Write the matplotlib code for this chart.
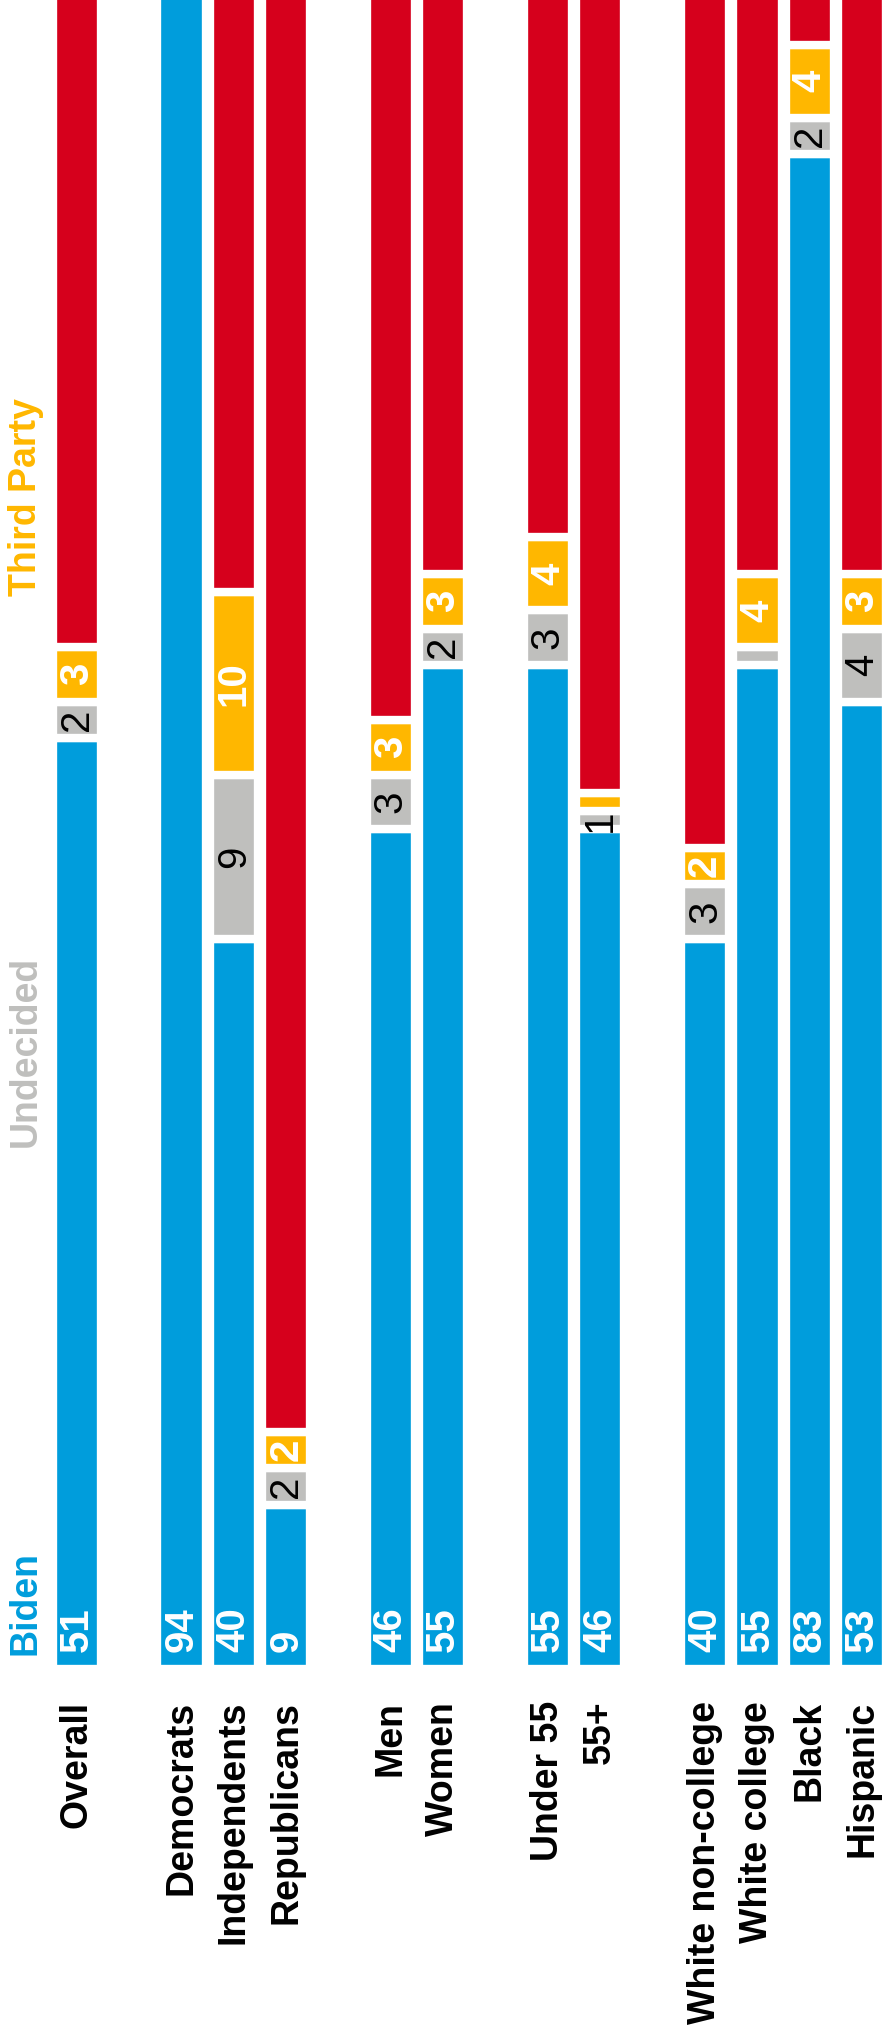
import matplotlib
matplotlib.use("Agg")
import matplotlib.pyplot as plt
import numpy as np

plt.rcParams['font.family'] = ['Liberation Sans', 'DejaVu Sans']

# groups, with empty slots between blocks
groups = ["Overall", "Democrats", "Independents", "Republicans", "Men", "Women",
          "Under 55", "55+", "White non-college", "White college", "Black", "Hispanic"]
slots = [0, 2, 3, 4, 6, 7, 9, 10, 12, 13, 14, 15]

biden = [51, 94, 40, 9, 46, 55, 55, 46, 40, 55, 83, 53]
undecided = [2, 2, 9, 2, 3, 2, 3, 1, 3, 1, 2, 4]
third_party = [3, 1, 10, 2, 3, 3, 4, 1, 2, 4, 4, 3]
trump = [44, 3, 41, 87, 48, 40, 38, 52, 55, 40, 11, 40]

undecided_labels = ["2", "", "9", "2", "3", "2", "3", "1", "3", "", "2", "4"]
third_labels = ["3", "", "10", "2", "3", "3", "4", "", "2", "4", "4", "3"]

series_names = ["Biden", "Undecided", "Third Party"]
series_pos = [0.75, 28.6, 58.8]

BLUE = "#009ddc"
GRAY = "#bfbfbd"
YELLOW = "#ffb700"
RED = "#d6001c"

fig = plt.figure(figsize=(8.82, 20.32), dpi=100)
ax = fig.add_axes([0, 0, 1, 1])

x = np.array(slots, dtype=float)
bottom = np.zeros(len(x))
containers = []
for vals, col in zip([biden, undecided, third_party, trump], [BLUE, GRAY, YELLOW, RED]):
    vals = np.array(vals, dtype=float)
    bars = ax.bar(x, vals, bottom=bottom, width=0.924, color=col,
                  edgecolor="white", linewidth=6.0)
    containers.append((bars, bottom.copy(), vals))
    bottom += vals

num_fs = 29
lab_fs = 27

# Biden values at the base of each bar
for xi, b in zip(x, biden):
    ax.text(xi, 0.95, str(b), rotation=90, ha="center", va="bottom",
            color="white", fontweight="bold", fontsize=num_fs)

# undecided (gray) and third-party (yellow) values
bars_u, base_u, vals_u = containers[1]
for bar, xi, b0, v, lab in zip(bars_u, x, base_u, vals_u, undecided_labels):
    if lab:
        t = ax.text(xi, b0 + v / 2, lab, rotation=90, ha="center", va="center",
                    color="black", fontsize=num_fs)
        t.set_clip_path(bar)

bars_t, base_t, vals_t = containers[2]
for bar, xi, b0, v, lab in zip(bars_t, x, base_t, vals_t, third_labels):
    if lab:
        ax.text(xi, b0 + v / 2, lab, rotation=90, ha="center", va="center",
                color="white", fontweight="bold", fontsize=num_fs)

# group labels below the bars
for xi, g in zip(x, groups):
    ax.text(xi, -1.75, g, rotation=90, ha="center", va="top",
            color="black", fontweight="bold", fontsize=lab_fs)

# series names on the left
for name, pos, col in zip(series_names, series_pos, [BLUE, GRAY, YELLOW]):
    ax.text(-0.97, pos, name, rotation=90, ha="center", va="bottom",
            color=col, fontweight="bold", fontsize=lab_fs)

ax.set_xlim(-1.465, 15.38)
ax.set_ylim(-19.9, 91.45)
ax.axis("off")

fig.savefig("out.png", dpi=100, facecolor="white")
